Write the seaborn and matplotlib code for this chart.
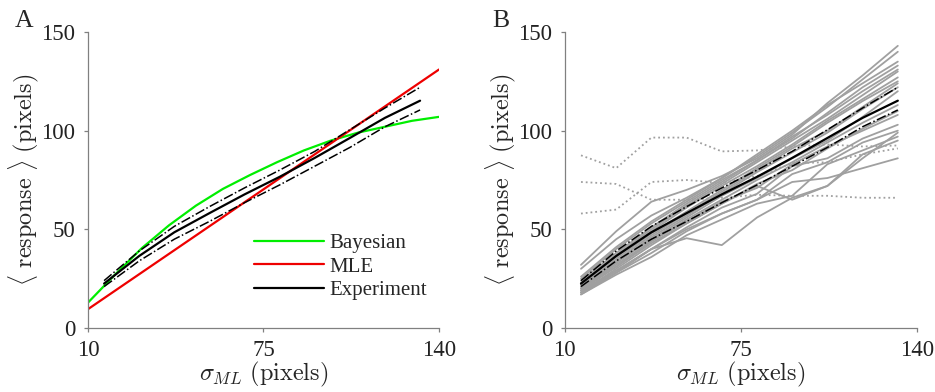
import matplotlib
matplotlib.use("Agg")
import matplotlib.pyplot as plt
import seaborn as sns
import pandas as pd

# model curves (panel A)
bayes_x = [10, 20, 30, 40, 50, 60, 70, 80, 90, 100, 110, 120, 130, 140]
bayes_y = [12.8, 27, 40.5, 52, 62, 70.5, 77.5, 84, 90, 95, 99, 102, 105, 107]
mle_x = [10, 140]
mle_y = [9.5, 131]

# experiment mean and bounds
exp_x = [16, 29, 42, 55, 68, 81, 94, 107, 120, 133]
exp_mean = [22.5, 36.5, 48.5, 58.2, 67.7, 76.6, 86.2, 96.3, 106.5, 115.2]
exp_upper = [24, 39, 51.5, 61.5, 71, 80, 89.5, 100.5, 111.5, 122]
exp_lower = [21, 34, 45, 54, 63.5, 72.5, 82, 91.5, 102, 110.5]

# individual subjects (panel B)
subjects = [
    [32, 49, 64, 70, 77, 86, 98, 114, 128, 143],
    [30, 45, 57, 66, 76, 87, 99, 112, 126, 140],
    [26, 41, 54, 65, 76, 88, 100, 113, 124, 135],
    [25, 40, 53, 64, 75, 85, 96, 109, 122, 133],
    [24, 38, 51, 63, 74, 85, 97, 108, 120, 131],
    [23, 37, 50, 62, 73, 84, 95, 106, 118, 130],
    [22, 36, 49, 61, 72, 82, 93, 105, 116, 127],
    [21, 35, 48, 59, 70, 81, 92, 104, 115, 125],
    [22, 34, 47, 58, 69, 80, 91, 100, 112, 124],
    [20, 33, 46, 57, 68, 79, 89, 99, 111, 122],
    [21, 33, 45, 56, 67, 76, 86, 95, 107, 120],
    [19, 31, 44, 55, 65, 75, 84, 94, 104, 113],
    [18, 30, 42, 53, 63, 73, 80, 91, 101, 110],
    [20, 32, 44, 54, 64, 71, 83, 92, 100, 108],
    [18, 28, 40, 51, 61, 68, 82, 86, 96, 103],
    [17, 28, 38, 49, 58, 65, 78, 84, 94, 100],
    [17, 27, 36, 47, 55, 63, 67, 83, 90, 97],
    [19, 29, 40, 45.5, 42, 56, 66, 72, 88, 95],
    [18, 29, 40, 50, 58, 65, 74, 76, 81, 86],
    [20, 31, 43, 53, 63, 72, 65, 72, 86, 99],
]
outliers = [
    [87.5, 81, 96.5, 96.5, 89.5, 90, 92, 93, 92, 92.5],
    [74, 73, 65, 65, 66, 67.5, 67, 67, 66, 66],
    [58, 60, 74, 75, 73.5, 77, 83.5, 84, 88, 91],
]

sns.set_style("ticks")
plt.rcParams["font.family"] = ["Liberation Serif", "DejaVu Serif"]
plt.rcParams["mathtext.fontset"] = "cm"
plt.rcParams["font.size"] = 14

fig = plt.figure(figsize=(9.35, 3.92), dpi=100)
ax_a = fig.add_axes([0.094, 0.1633, 0.3755, 0.755])
ax_b = fig.add_axes([0.604, 0.1633, 0.3765, 0.755])

green = "#00ee00"
red = "#ee0000"

sns.lineplot(x=bayes_x, y=bayes_y, ax=ax_a, color=green, lw=1.6, label="Bayesian")
sns.lineplot(x=mle_x, y=mle_y, ax=ax_a, color=red, lw=1.6, label="MLE")
sns.lineplot(x=exp_x, y=exp_mean, ax=ax_a, color="black", lw=1.6, label="Experiment")
for b in [exp_upper, exp_lower]:
    sns.lineplot(x=exp_x, y=b, ax=ax_a, color="black", lw=1.1, ls="-.", legend=False)

leg = ax_a.legend(loc="lower right", bbox_to_anchor=(1.02, 0.03), frameon=False,
                  handlelength=3.4, handletextpad=0.25, labelspacing=0.2, fontsize=15)

# panel B
rows = []
for i, s in enumerate(subjects):
    for x, y in zip(exp_x, s):
        rows.append({"subject": i, "x": x, "y": y})
df_sub = pd.DataFrame(rows)
rows = []
for i, s in enumerate(outliers):
    for x, y in zip(exp_x, s):
        rows.append({"subject": i, "x": x, "y": y})
df_out = pd.DataFrame(rows)

sns.lineplot(data=df_sub, x="x", y="y", units="subject", estimator=None, ax=ax_b,
             color="#a0a0a0", lw=1.3)
sns.lineplot(data=df_out, x="x", y="y", units="subject", estimator=None, ax=ax_b,
             color="#a0a0a0", lw=1.3, ls=":")
sns.lineplot(x=exp_x, y=exp_mean, ax=ax_b, color="black", lw=1.6)
for b in [exp_upper, exp_lower]:
    sns.lineplot(x=exp_x, y=b, ax=ax_b, color="black", lw=1.1, ls="-.")

for ax, letter in [(ax_a, "A"), (ax_b, "B")]:
    ax.set_xlim(10, 140)
    ax.set_ylim(0, 150)
    ax.set_xticks([10, 75, 140])
    ax.set_yticks([0, 50, 100, 150])
    sns.despine(ax=ax)
    for sp in ["left", "bottom"]:
        ax.spines[sp].set_color("#808080")
        ax.spines[sp].set_linewidth(0.9)
    ax.tick_params(colors="#808080", labelcolor="#222222", length=3, width=0.9,
                   labelsize=16.5, pad=6)
    ax.set_xlabel(r"$\sigma_{ML}\ \mathrm{(pixels)}$", fontsize=17.5, labelpad=-1)
    ax.set_ylabel(r"$\langle\ \mathrm{response}\ \rangle\ \mathrm{(pixels)}$", fontsize=17.5, labelpad=0)
    pos = ax.get_position()
    fig.text(pos.x0 - 0.078, 0.931, letter, fontsize=18.5, ha="left", va="baseline")

fig.savefig("out.png", dpi=100)
